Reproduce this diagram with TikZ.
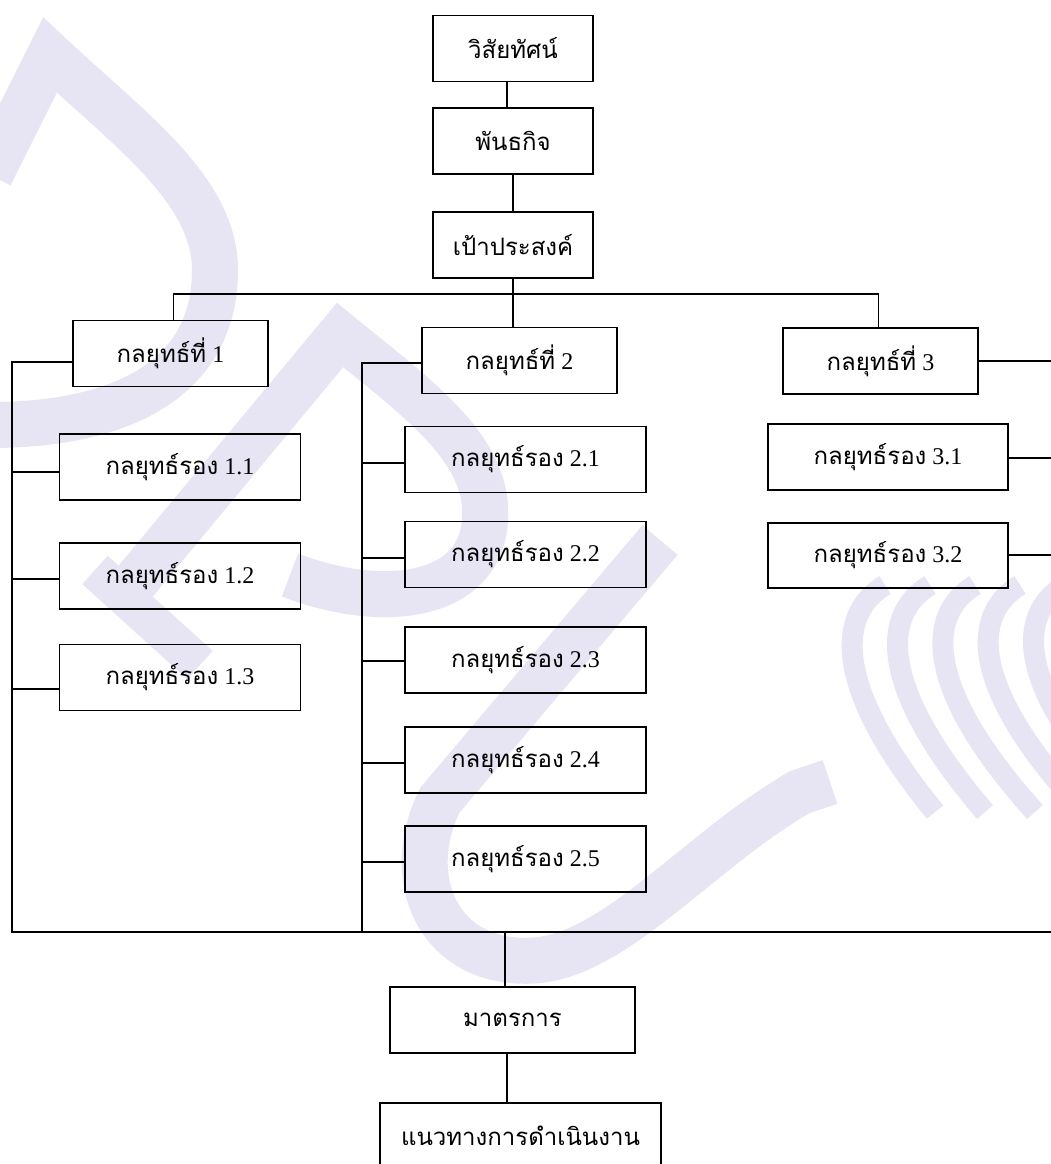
\documentclass[tikz,border=0pt]{standalone}
\usepackage{fontspec}
\setmainfont{Liberation Serif}
\newfontfamily\thai[Script=Thai]{Loma}
\newcommand\thtxt[1]{{\thai\fontsize{24}{28}\selectfont #1}}
\definecolor{wm}{RGB}{231,229,243}
\begin{document}
\begin{tikzpicture}[x=1pt,y=-1pt,
  box/.style={draw, line width=1.1pt, inner sep=0pt, fill=none,
    font=\fontsize{24}{28}\selectfont},
  bw/.style={minimum width=160pt, minimum height=66pt},
  bs/.style={minimum width=195pt, minimum height=66pt},
  bl/.style={minimum width=241pt, minimum height=66pt},
  wire/.style={line width=1.4pt},
  wmark/.style={draw=wm, line width=46pt, line join=miter}]
\useasboundingbox (0,0) rectangle (1051,1164);
\clip (0,0) rectangle (1051,1164);
\fill[white] (0,0) rectangle (1051,1164);
% watermark (approximate)
\draw[wmark] (-10,175) -- (50,55) .. controls (130,130) and (215,190) .. (215,270)
  .. controls (215,380) and (120,425) .. (-10,425);
\draw[wmark] (120,600) -- (340,335) .. controls (420,400) and (490,450) .. (485,520)
  .. controls (480,600) and (380,610) .. (290,575);
\draw[wmark, line width=38pt] (95,570) -- (200,665);
\draw[wmark] (660,540) -- (440,800) .. controls (400,880) and (440,970) .. (540,960)
  .. controls (620,950) and (700,850) .. (800,792) -- (830,782);
\foreach \k in {0,1,2,3,4}{
  \draw[draw=wm, line width=21pt] (885+45*\k,585) .. controls (835+45*\k,615) and (835+45*\k,690) .. (935+50*\k,812);
}
% nodes
\node[box,bw] (vis)  at (513,48.5) {\thtxt{วิสัยทัศน์}};
\node[box,bw] (mis)  at (513,141) {\thtxt{พันธกิจ}};
\node[box,bw] (goal) at (513,245) {\thtxt{เป้าประสงค์}};
\node[box,bs] (s1) at (170.5,353.5) {\thtxt{กลยุทธ์ที่} 1};
\node[box,bs] (s2) at (519.5,360.5) {\thtxt{กลยุทธ์ที่} 2};
\node[box,bs] (s3) at (880.5,361) {\thtxt{กลยุทธ์ที่} 3};
\node[box,bl] (s11) at (180,467) {\thtxt{กลยุทธ์รอง} 1.1};
\node[box,bl] (s12) at (180,576) {\thtxt{กลยุทธ์รอง} 1.2};
\node[box,bl] (s13) at (180,677.5) {\thtxt{กลยุทธ์รอง} 1.3};
\node[box,bl] (s21) at (525.5,459.5) {\thtxt{กลยุทธ์รอง} 2.1};
\node[box,bl] (s22) at (525.5,554.5) {\thtxt{กลยุทธ์รอง} 2.2};
\node[box,bl] (s23) at (525.5,660) {\thtxt{กลยุทธ์รอง} 2.3};
\node[box,bl] (s24) at (525.5,760) {\thtxt{กลยุทธ์รอง} 2.4};
\node[box,bl] (s25) at (525.5,859) {\thtxt{กลยุทธ์รอง} 2.5};
\node[box,minimum width=240pt,minimum height=66pt] (s31) at (888,457) {\thtxt{กลยุทธ์รอง} 3.1};
\node[box,minimum width=240pt,minimum height=65pt] (s32) at (888,555.5) {\thtxt{กลยุทธ์รอง} 3.2};
\node[box,minimum width=245pt,minimum height=66pt] (meas) at (512.5,1020) {\thtxt{มาตรการ}};
\node[box,minimum width=281pt,minimum height=66pt] (guide) at (520.5,1136) {\thtxt{แนวทางการดำเนินงาน}};
% coordinates
\coordinate (bus) at (513,294);
\coordinate (t1) at (12,362);
\coordinate (t1b) at (12,932);
\coordinate (b11) at (12,472);
\coordinate (b12) at (12,579);
\coordinate (b13) at (12,689);
\coordinate (t2) at (362,363);
\coordinate (t2b) at (362,932);
\coordinate (b21) at (362,463);
\coordinate (b22) at (362,558);
\coordinate (b23) at (362,661);
\coordinate (b24) at (362,763);
\coordinate (b25) at (362,862);
\coordinate (r3) at (1051,361);
\coordinate (r31) at (1051,458);
\coordinate (r32) at (1051,555);
\coordinate (bot) at (1051,932);
\coordinate (mtop) at (505,932);
% connectors
\draw[wire] ([xshift=-6pt]vis.south) -- ([xshift=-6pt]vis.south |- mis.north);
\draw[wire] (mis.south) -- (goal.north);
\draw[wire] (goal.south) -- (goal.south |- s2.north);
\draw[wire] ([xshift=3pt]s1.north) |- (bus) -| ([xshift=-2pt]s3.north);
\draw[wire] (s1.west |- t1) -- (t1) -- (t1b) -- (bot);
\draw[wire] (b11) -- (b11 -| s11.west);
\draw[wire] (b12) -- (b12 -| s12.west);
\draw[wire] (b13) -- (b13 -| s13.west);
\draw[wire] (s2.west |- t2) -- (t2) -- (t2b);
\draw[wire] (b21) -- (b21 -| s21.west);
\draw[wire] (b22) -- (b22 -| s22.west);
\draw[wire] (b23) -- (b23 -| s23.west);
\draw[wire] (b24) -- (b24 -| s24.west);
\draw[wire] (b25) -- (b25 -| s25.west);
\draw[wire] (s3.east |- r3) -- (r3);
\draw[wire] (s31.east |- r31) -- (r31);
\draw[wire] (s32.east |- r32) -- (r32);
\draw[wire] (mtop) -- (mtop |- meas.north);
\draw[wire] ([xshift=-5.5pt]meas.south) -- ([xshift=-5.5pt]meas.south |- guide.north);
\end{tikzpicture}
\end{document}
